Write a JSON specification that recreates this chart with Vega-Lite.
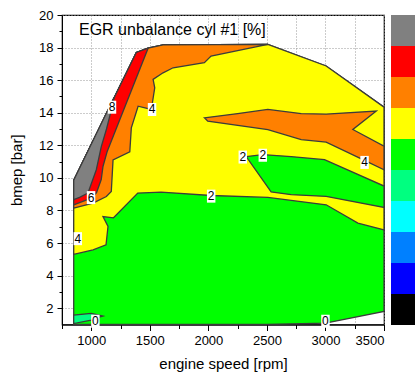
{
  "$schema": "https://vega.github.io/schema/vega-lite/v6.json",
  "padding": {"left": 8, "top": 8, "right": 0, "bottom": 0},
  "background": "white",
  "config": {"font": "Liberation Sans", "view": {"stroke": null}},
  "datasets": {
    "contours": [
      {"poly": "hull", "level": 0, "i": 0, "rpm": 850, "bmep": 1.0},
      {"poly": "hull", "level": 0, "i": 1, "rpm": 850, "bmep": 9.85},
      {"poly": "hull", "level": 0, "i": 2, "rpm": 1385, "bmep": 17.7},
      {"poly": "hull", "level": 0, "i": 3, "rpm": 1485, "bmep": 17.96},
      {"poly": "hull", "level": 0, "i": 4, "rpm": 1613, "bmep": 18.16},
      {"poly": "hull", "level": 0, "i": 5, "rpm": 2508, "bmep": 18.2},
      {"poly": "hull", "level": 0, "i": 6, "rpm": 3006, "bmep": 16.87},
      {"poly": "hull", "level": 0, "i": 7, "rpm": 3500, "bmep": 14.34},
      {"poly": "hull", "level": 0, "i": 8, "rpm": 3500, "bmep": 1.8},
      {"poly": "hull", "level": 0, "i": 9, "rpm": 3000, "bmep": 1.08},
      {"poly": "hull", "level": 0, "i": 10, "rpm": 2500, "bmep": 1.0},

      {"poly": "neg", "level": -2, "i": 0, "rpm": 850, "bmep": 1.06},
      {"poly": "neg", "level": -2, "i": 1, "rpm": 850, "bmep": 1.58},
      {"poly": "neg", "level": -2, "i": 2, "rpm": 1000, "bmep": 1.68},
      {"poly": "neg", "level": -2, "i": 3, "rpm": 1100, "bmep": 1.52},
      {"poly": "neg", "level": -2, "i": 4, "rpm": 1030, "bmep": 1.37},
      {"poly": "neg", "level": -2, "i": 5, "rpm": 1000, "bmep": 1.27},

      {"poly": "yellow", "level": 2, "i": 0, "rpm": 850, "bmep": 5.3},
      {"poly": "yellow", "level": 2, "i": 1, "rpm": 1015, "bmep": 5.58},
      {"poly": "yellow", "level": 2, "i": 2, "rpm": 1126, "bmep": 5.89},
      {"poly": "yellow", "level": 2, "i": 3, "rpm": 1143, "bmep": 7.02},
      {"poly": "yellow", "level": 2, "i": 4, "rpm": 1100, "bmep": 7.63},
      {"poly": "yellow", "level": 2, "i": 5, "rpm": 1190, "bmep": 7.55},
      {"poly": "yellow", "level": 2, "i": 6, "rpm": 1397, "bmep": 9.07},
      {"poly": "yellow", "level": 2, "i": 7, "rpm": 1596, "bmep": 9.13},
      {"poly": "yellow", "level": 2, "i": 8, "rpm": 2023, "bmep": 8.92},
      {"poly": "yellow", "level": 2, "i": 9, "rpm": 2508, "bmep": 8.8},
      {"poly": "yellow", "level": 2, "i": 10, "rpm": 3006, "bmep": 8.35},
      {"poly": "yellow", "level": 2, "i": 11, "rpm": 3277, "bmep": 7.22},
      {"poly": "yellow", "level": 2, "i": 12, "rpm": 3500, "bmep": 6.81},
      {"poly": "yellow", "level": 2, "i": 13, "rpm": 3500, "bmep": 14.34},
      {"poly": "yellow", "level": 2, "i": 14, "rpm": 3006, "bmep": 16.87},
      {"poly": "yellow", "level": 2, "i": 15, "rpm": 2508, "bmep": 18.2},
      {"poly": "yellow", "level": 2, "i": 16, "rpm": 1613, "bmep": 18.16},
      {"poly": "yellow", "level": 2, "i": 17, "rpm": 1485, "bmep": 17.96},
      {"poly": "yellow", "level": 2, "i": 18, "rpm": 1385, "bmep": 17.7},
      {"poly": "yellow", "level": 2, "i": 19, "rpm": 850, "bmep": 9.85},

      {"poly": "orange1", "level": 4, "i": 0, "rpm": 850, "bmep": 8.14},
      {"poly": "orange1", "level": 4, "i": 1, "rpm": 1015, "bmep": 8.45},
      {"poly": "orange1", "level": 4, "i": 2, "rpm": 1129, "bmep": 8.86},
      {"poly": "orange1", "level": 4, "i": 3, "rpm": 1171, "bmep": 9.17},
      {"poly": "orange1", "level": 4, "i": 4, "rpm": 1186, "bmep": 11.1},
      {"poly": "orange1", "level": 4, "i": 5, "rpm": 1329, "bmep": 11.6},
      {"poly": "orange1", "level": 4, "i": 6, "rpm": 1342, "bmep": 13.07},
      {"poly": "orange1", "level": 4, "i": 7, "rpm": 1400, "bmep": 14.4},
      {"poly": "orange1", "level": 4, "i": 8, "rpm": 1513, "bmep": 14.2},
      {"poly": "orange1", "level": 4, "i": 9, "rpm": 1542, "bmep": 15.53},
      {"poly": "orange1", "level": 4, "i": 10, "rpm": 1528, "bmep": 16.05},
      {"poly": "orange1", "level": 4, "i": 11, "rpm": 1613, "bmep": 16.45},
      {"poly": "orange1", "level": 4, "i": 12, "rpm": 1699, "bmep": 16.76},
      {"poly": "orange1", "level": 4, "i": 13, "rpm": 1966, "bmep": 17.07},
      {"poly": "orange1", "level": 4, "i": 14, "rpm": 2023, "bmep": 17.48},
      {"poly": "orange1", "level": 4, "i": 15, "rpm": 2508, "bmep": 18.2},
      {"poly": "orange1", "level": 4, "i": 16, "rpm": 1613, "bmep": 18.16},
      {"poly": "orange1", "level": 4, "i": 17, "rpm": 1485, "bmep": 17.96},
      {"poly": "orange1", "level": 4, "i": 18, "rpm": 1385, "bmep": 17.7},
      {"poly": "orange1", "level": 4, "i": 19, "rpm": 850, "bmep": 9.85},

      {"poly": "tongue", "level": 4, "i": 0, "rpm": 1966, "bmep": 13.69},
      {"poly": "tongue", "level": 4, "i": 1, "rpm": 2250, "bmep": 13.95},
      {"poly": "tongue", "level": 4, "i": 2, "rpm": 2508, "bmep": 14.2},
      {"poly": "tongue", "level": 4, "i": 3, "rpm": 2793, "bmep": 13.95},
      {"poly": "tongue", "level": 4, "i": 4, "rpm": 3006, "bmep": 13.92},
      {"poly": "tongue", "level": 4, "i": 5, "rpm": 3434, "bmep": 14.1},
      {"poly": "tongue", "level": 4, "i": 6, "rpm": 3234, "bmep": 12.97},
      {"poly": "tongue", "level": 4, "i": 7, "rpm": 3500, "bmep": 11.95},
      {"poly": "tongue", "level": 4, "i": 8, "rpm": 3500, "bmep": 10.5},
      {"poly": "tongue", "level": 4, "i": 9, "rpm": 3320, "bmep": 11.12},
      {"poly": "tongue", "level": 4, "i": 10, "rpm": 3006, "bmep": 12.2},
      {"poly": "tongue", "level": 4, "i": 11, "rpm": 2793, "bmep": 12.35},
      {"poly": "tongue", "level": 4, "i": 12, "rpm": 2508, "bmep": 12.97},
      {"poly": "tongue", "level": 4, "i": 13, "rpm": 1995, "bmep": 13.48},

      {"poly": "red", "level": 6, "i": 0, "rpm": 850, "bmep": 8.35},
      {"poly": "red", "level": 6, "i": 1, "rpm": 1000, "bmep": 8.76},
      {"poly": "red", "level": 6, "i": 2, "rpm": 1045, "bmep": 9.1},
      {"poly": "red", "level": 6, "i": 3, "rpm": 1085, "bmep": 9.9},
      {"poly": "red", "level": 6, "i": 4, "rpm": 1100, "bmep": 10.7},
      {"poly": "red", "level": 6, "i": 5, "rpm": 1135, "bmep": 11.6},
      {"poly": "red", "level": 6, "i": 6, "rpm": 1485, "bmep": 17.96},
      {"poly": "red", "level": 6, "i": 7, "rpm": 1385, "bmep": 17.7},
      {"poly": "red", "level": 6, "i": 8, "rpm": 850, "bmep": 9.85},

      {"poly": "grey", "level": 8, "i": 0, "rpm": 850, "bmep": 8.66},
      {"poly": "grey", "level": 8, "i": 1, "rpm": 900, "bmep": 8.8},
      {"poly": "grey", "level": 8, "i": 2, "rpm": 972, "bmep": 9.07},
      {"poly": "grey", "level": 8, "i": 3, "rpm": 1043, "bmep": 10.5},
      {"poly": "grey", "level": 8, "i": 4, "rpm": 1086, "bmep": 11.94},
      {"poly": "grey", "level": 8, "i": 5, "rpm": 1130, "bmep": 13.0},
      {"poly": "grey", "level": 8, "i": 6, "rpm": 1176, "bmep": 14.3},
      {"poly": "grey", "level": 8, "i": 7, "rpm": 1195, "bmep": 14.95},
      {"poly": "grey", "level": 8, "i": 8, "rpm": 850, "bmep": 9.85},

      {"poly": "island", "level": 0, "i": 0, "rpm": 2323, "bmep": 11.31},
      {"poly": "island", "level": 0, "i": 1, "rpm": 2465, "bmep": 11.43},
      {"poly": "island", "level": 0, "i": 2, "rpm": 2707, "bmep": 11.31},
      {"poly": "island", "level": 0, "i": 3, "rpm": 2992, "bmep": 11.12},
      {"poly": "island", "level": 0, "i": 4, "rpm": 3500, "bmep": 9.5},
      {"poly": "island", "level": 0, "i": 5, "rpm": 3500, "bmep": 8.19},
      {"poly": "island", "level": 0, "i": 6, "rpm": 3006, "bmep": 8.86},
      {"poly": "island", "level": 0, "i": 7, "rpm": 2707, "bmep": 8.97},
      {"poly": "island", "level": 0, "i": 8, "rpm": 2536, "bmep": 9.14}
    ],
    "labels": [
      {"rpm": 1177, "bmep": 14.34, "t": "8"},
      {"rpm": 1519, "bmep": 14.2, "t": "4"},
      {"rpm": 998, "bmep": 8.79, "t": "6"},
      {"rpm": 885, "bmep": 6.27, "t": "4"},
      {"rpm": 2024, "bmep": 8.88, "t": "2"},
      {"rpm": 2294, "bmep": 11.28, "t": "2"},
      {"rpm": 2465, "bmep": 11.39, "t": "2"},
      {"rpm": 3334, "bmep": 10.95, "t": "4"},
      {"rpm": 1035, "bmep": 1.2, "t": "0"},
      {"rpm": 3000, "bmep": 1.2, "t": "0"}
    ],
    "bar": [
      {"level": 8}, {"level": 6}, {"level": 4}, {"level": 2}, {"level": 0},
      {"level": -2}, {"level": -4}, {"level": -6}, {"level": -8}, {"level": -10}
    ]
  },
  "spacing": 7,
  "bounds": "flush",
  "hconcat": [
    {
      "width": 322,
      "height": 309.5,
      "view": {"stroke": "#000", "strokeWidth": 1.2},
      "title": {"text": "EGR unbalance cyl #1 [%]", "anchor": "start", "frame": "group", "offset": -29, "dx": 17, "fontSize": 16, "fontWeight": "normal", "font": "Liberation Sans", "color": "#000"},
      "encoding": {
        "x": {"field": "rpm", "type": "quantitative",
          "scale": {"domain": [750, 3500], "nice": false, "zero": false},
          "axis": {"title": "engine speed [rpm]", "values": [750, 1000, 1250, 1500, 1750, 2000, 2250, 2500, 2750, 3000, 3250, 3500],
            "format": "d", "labelExpr": "datum.value % 500 == 0 ? datum.label : ''",
            "grid": true, "gridDash": [1, 2], "gridColor": "#999", "gridWidth": 1,
            "domainColor": "#000", "tickColor": "#000",
            "tickSize": {"condition": {"test": "datum.value % 500 == 0", "value": 6}, "value": 4},
            "labelFontSize": 13, "labelColor": "#000", "labelPadding": 4, "labelFont": "Liberation Sans",
            "titleFontSize": 15, "titleFontWeight": "normal", "titleColor": "#000", "titlePadding": 9, "titleFont": "Liberation Sans"}},
        "y": {"field": "bmep", "type": "quantitative",
          "scale": {"domain": [1, 20], "nice": false, "zero": false},
          "axis": {"title": "bmep [bar]", "values": [2, 3, 4, 5, 6, 7, 8, 9, 10, 11, 12, 13, 14, 15, 16, 17, 18, 19, 20],
            "labelExpr": "datum.value % 2 == 0 ? datum.label : ''",
            "grid": true, "gridDash": [1, 2], "gridColor": "#999", "gridWidth": 1,
            "gridOpacity": {"condition": {"test": "datum.value % 2 == 0", "value": 1}, "value": 0},
            "domainColor": "#000", "tickColor": "#000",
            "tickSize": {"condition": {"test": "datum.value % 2 == 0", "value": 5}, "value": 3},
            "labelFontSize": 13, "labelColor": "#000", "labelPadding": 4, "labelFont": "Liberation Sans",
            "titleFontSize": 15, "titleFontWeight": "normal", "titleColor": "#000", "titlePadding": 14, "titleFont": "Liberation Sans"}}
      },
      "layer": [
        {"data": {"name": "contours"}, "transform": [{"filter": "datum.poly == 'hull'"}],
          "mark": {"type": "line", "interpolate": "linear-closed", "filled": true, "stroke": "#3c3c3c", "strokeWidth": 1.3, "fillOpacity": 1},
          "encoding": {"order": {"field": "i", "type": "quantitative"},
            "color": {"field": "level", "type": "ordinal", "legend": null, "scale": {"domain": [8, 6, 4, 2, 0, -2, -4, -6, -8, -10], "range": ["#808080", "#ff0000", "#ff8000", "#ffff00", "#00ff00", "#00ff80", "#00ffff", "#0080ff", "#0000ff", "#000000"]}}}},
        {"data": {"name": "contours"}, "transform": [{"filter": "datum.poly == 'neg'"}],
          "mark": {"type": "line", "interpolate": "linear-closed", "filled": true, "stroke": "#3c3c3c", "strokeWidth": 1.3, "fillOpacity": 1},
          "encoding": {"order": {"field": "i", "type": "quantitative"},
            "color": {"field": "level", "type": "ordinal", "legend": null}}},
        {"data": {"name": "contours"}, "transform": [{"filter": "datum.poly == 'yellow'"}],
          "mark": {"type": "line", "interpolate": "linear-closed", "filled": true, "stroke": "#3c3c3c", "strokeWidth": 1.3, "fillOpacity": 1},
          "encoding": {"order": {"field": "i", "type": "quantitative"},
            "color": {"field": "level", "type": "ordinal", "legend": null}}},
        {"data": {"name": "contours"}, "transform": [{"filter": "datum.poly == 'orange1'"}],
          "mark": {"type": "line", "interpolate": "linear-closed", "filled": true, "stroke": "#3c3c3c", "strokeWidth": 1.3, "fillOpacity": 1},
          "encoding": {"order": {"field": "i", "type": "quantitative"},
            "color": {"field": "level", "type": "ordinal", "legend": null}}},
        {"data": {"name": "contours"}, "transform": [{"filter": "datum.poly == 'tongue'"}],
          "mark": {"type": "line", "interpolate": "linear-closed", "filled": true, "stroke": "#3c3c3c", "strokeWidth": 1.3, "fillOpacity": 1},
          "encoding": {"order": {"field": "i", "type": "quantitative"},
            "color": {"field": "level", "type": "ordinal", "legend": null}}},
        {"data": {"name": "contours"}, "transform": [{"filter": "datum.poly == 'red'"}],
          "mark": {"type": "line", "interpolate": "linear-closed", "filled": true, "stroke": "#3c3c3c", "strokeWidth": 1.3, "fillOpacity": 1},
          "encoding": {"order": {"field": "i", "type": "quantitative"},
            "color": {"field": "level", "type": "ordinal", "legend": null}}},
        {"data": {"name": "contours"}, "transform": [{"filter": "datum.poly == 'grey'"}],
          "mark": {"type": "line", "interpolate": "linear-closed", "filled": true, "stroke": "#3c3c3c", "strokeWidth": 1.3, "fillOpacity": 1},
          "encoding": {"order": {"field": "i", "type": "quantitative"},
            "color": {"field": "level", "type": "ordinal", "legend": null}}},
        {"data": {"name": "contours"}, "transform": [{"filter": "datum.poly == 'island'"}],
          "mark": {"type": "line", "interpolate": "linear-closed", "filled": true, "stroke": "#3c3c3c", "strokeWidth": 1.3, "fillOpacity": 1},
          "encoding": {"order": {"field": "i", "type": "quantitative"},
            "color": {"field": "level", "type": "ordinal", "legend": null}}},
        {"data": {"values": [{}]},
          "mark": {"type": "rect", "fill": "white"},
          "encoding": {"x": {"datum": 752}, "x2": {"datum": 2520}, "y": {"datum": 19.95}, "y2": {"datum": 18.4}}},
        {"data": {"name": "labels"},
          "mark": {"type": "point", "shape": "M-0.65,-1H0.65V1H-0.65Z", "size": 169, "filled": true, "fill": "white", "opacity": 1, "strokeWidth": 0}},
        {"data": {"name": "labels"},
          "mark": {"type": "text", "fontSize": 12, "font": "Liberation Sans", "color": "#000", "align": "center", "baseline": "middle"},
          "encoding": {"text": {"field": "t"}}}
      ]
    },
    {
      "width": 24,
      "height": 310,
      "data": {"name": "bar"},
      "mark": "rect",
      "encoding": {
        "y": {"field": "level", "type": "ordinal", "sort": "descending", "axis": null, "scale": {"paddingInner": 0, "paddingOuter": 0}},
        "color": {"field": "level", "type": "ordinal", "legend": null, "scale": {"domain": [8, 6, 4, 2, 0, -2, -4, -6, -8, -10], "range": ["#808080", "#ff0000", "#ff8000", "#ffff00", "#00ff00", "#00ff80", "#00ffff", "#0080ff", "#0000ff", "#000000"]}}
      }
    }
  ]
}
